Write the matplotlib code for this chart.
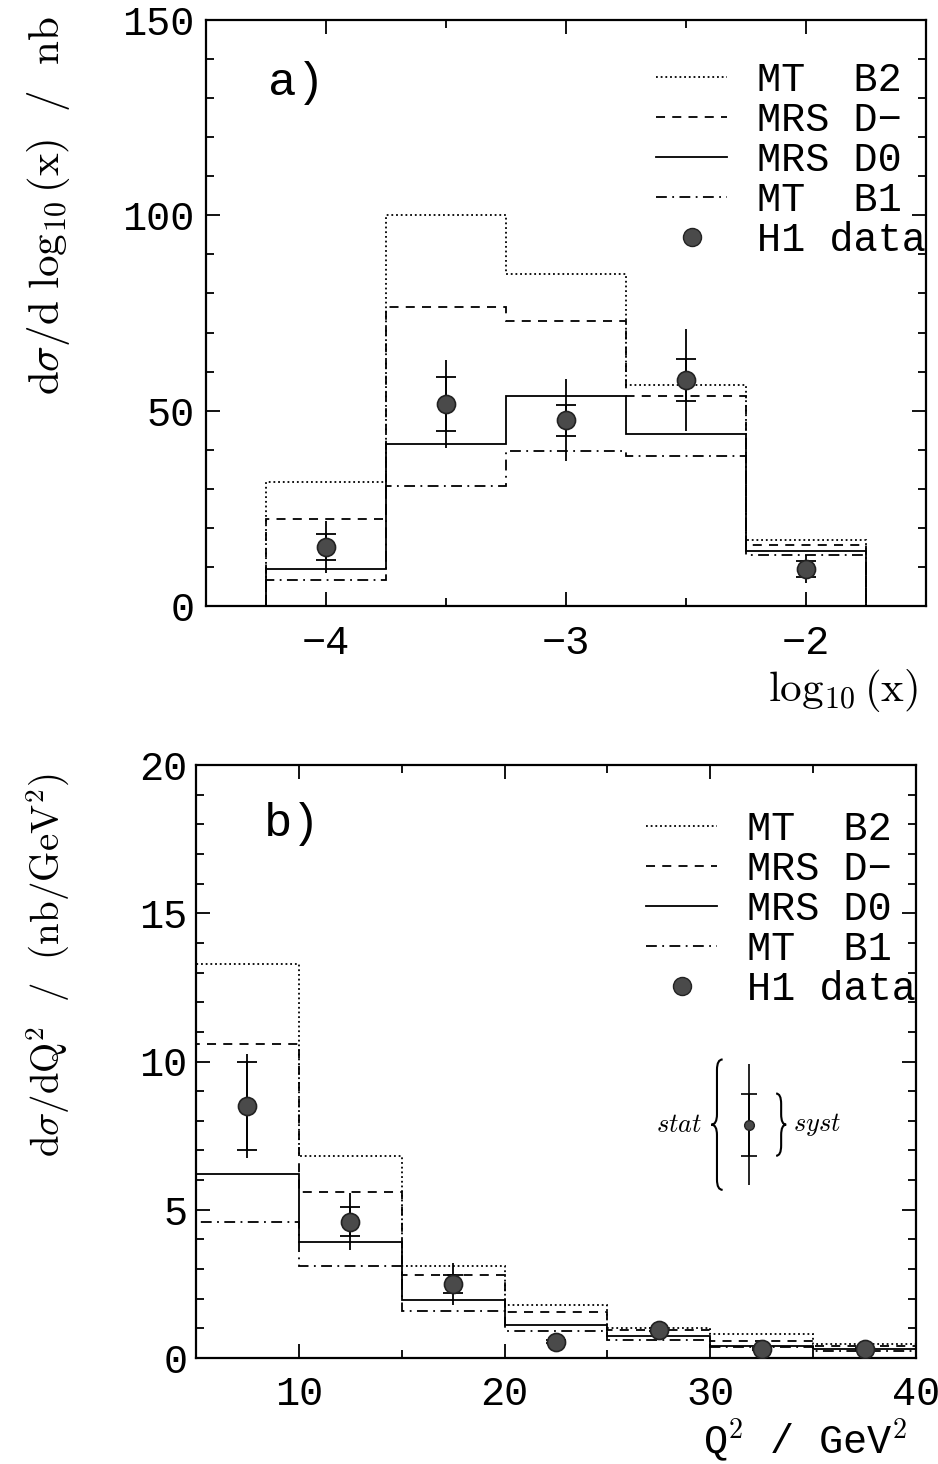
import numpy as np
import matplotlib
matplotlib.use("Agg")
import matplotlib.pyplot as plt
from matplotlib.path import Path
from matplotlib.patches import PathPatch
from matplotlib.ticker import MultipleLocator
from matplotlib.lines import Line2D

plt.rcParams['mathtext.fontset'] = 'cm'
plt.rcParams['font.family'] = ['Liberation Mono', 'DejaVu Sans']

# ---------------- data: panel a (log10 x) ----------------
x_edges_a = [-4.25, -3.75, -3.25, -2.75, -2.25, -1.75]
mt_b2_a = [31.7, 100.0, 85.0, 56.6, 17.0]
mrs_dm_a = [22.3, 76.5, 72.9, 53.7, 15.5]
mrs_d0_a = [9.5, 41.5, 53.7, 44.0, 14.0]
mt_b1_a = [6.7, 30.7, 39.7, 38.4, 13.0]
h1_x_a = [-4.0, -3.5, -3.0, -2.5, -2.0]
h1_y_a = [15.1, 51.7, 47.5, 57.8, 9.5]
h1_stat_a = [3.4, 6.8, 3.9, 5.3, 2.0]
h1_tot_a = [6.7, 11.2, 10.5, 13.0, 3.5]

# ---------------- data: panel b (Q^2) ----------------
q_edges_b = [5, 10, 15, 20, 25, 30, 35, 40]
mt_b2_b = [13.3, 6.8, 3.1, 1.8, 1.0, 0.8, 0.47]
mrs_dm_b = [10.6, 5.6, 2.8, 1.55, 0.95, 0.58, 0.42]
mrs_d0_b = [6.2, 3.9, 1.97, 1.1, 0.75, 0.42, 0.3]
mt_b1_b = [4.6, 3.1, 1.6, 0.9, 0.6, 0.38, 0.25]
h1_x_b = [7.5, 12.5, 17.5, 22.5, 27.5, 32.5, 37.5]
h1_y_b = [8.5, 4.6, 2.5, 0.55, 0.95, 0.3, 0.3]
h1_stat_b = [1.5, 0.5, 0.3, 0.05, 0.05, 0.03, 0.03]
h1_tot_b = [1.75, 0.95, 0.7, 0.08, 0.08, 0.05, 0.05]

# error-bar key in panel b
key_x = [31.9]
key_y = [7.87]
key_inner = [1.05]
key_outer = [2.05]

labels = ["MT  B2", "MRS D\u2212", "MRS D0", "MT  B1", "H1 data"]
styles = [(0, (1, 1.6)), (0, (5, 4)), '-', (0, (6, 3, 1, 3))]

TICKFS = 29
LEGFS = 29
MONO = ['Liberation Mono', 'DejaVu Sans']

fig = plt.figure(figsize=(9.38, 14.64), dpi=100)
axa = fig.add_axes([206/938, 1-606/1464, 720/938, 586/1464])
axb = fig.add_axes([196/938, 1-1358/1464, 720/938, 593/1464])


def style_axes(ax):
    ax.tick_params(which='both', direction='in', top=True, right=True,
                   width=1.3, colors='black')
    ax.tick_params(which='major', length=10)
    ax.tick_params(which='minor', length=6)
    for s in ax.spines.values():
        s.set_linewidth(1.6)
    for lab in ax.get_xticklabels() + ax.get_yticklabels():
        lab.set_fontfamily(MONO)
        lab.set_fontsize(TICKFS)


def draw_panel(ax, edges, series, hx, hy, hstat, htot):
    handles = []
    for vals, ls, lab in zip(series, styles, labels[:4]):
        ax.stairs(vals, edges, baseline=0, color='black', linewidth=1.3,
                  linestyle=ls)
        handles.append(Line2D([], [], color='black', linewidth=1.3,
                              linestyle=ls, label=lab))
    ax.errorbar(hx, hy, yerr=htot, fmt='none', ecolor='black',
                elinewidth=1.3, capsize=0, zorder=4)
    ax.errorbar(hx, hy, yerr=hstat, fmt='none', ecolor='black',
                elinewidth=1.3, capsize=7, capthick=1.3, zorder=4)
    ax.plot(hx, hy, 'o', markersize=13, markerfacecolor='#4a4a4a',
            markeredgecolor='#222222', markeredgewidth=1.2, zorder=5)
    handles.append(Line2D([], [], linestyle='none', marker='o',
                          markersize=13, markerfacecolor='#4a4a4a',
                          markeredgecolor='#222222', label=labels[4]))
    return handles


def add_legend(ax, handles, ytop):
    ax.legend(handles=handles, loc='upper right', bbox_to_anchor=(1.0, ytop),
              frameon=False, prop={'family': MONO, 'size': LEGFS},
              handlelength=1.75, handletextpad=0.75, labelspacing=0.05,
              borderpad=0, borderaxespad=0)


# ---------------- panel a ----------------
ha = draw_panel(axa, x_edges_a, [mt_b2_a, mrs_dm_a, mrs_d0_a, mt_b1_a],
                h1_x_a, h1_y_a, h1_stat_a, h1_tot_a)
axa.set_xlim(-4.5, -1.5)
axa.set_ylim(0, 150)
axa.xaxis.set_minor_locator(MultipleLocator(0.5))
axa.yaxis.set_major_locator(MultipleLocator(50))
axa.yaxis.set_minor_locator(MultipleLocator(10))
axa.set_xticks([-4, -3, -2])
axa.set_xticklabels(["\u22124", "\u22123", "\u22122"])
axa.tick_params(axis='x', pad=13)
axa.tick_params(axis='y', pad=8)
style_axes(axa)
axa.text(-4.125, 134, "a)", fontsize=34, family=MONO, ha='center', va='center')
add_legend(axa, ha, 0.93)

# ---------------- panel b ----------------
hb = draw_panel(axb, q_edges_b, [mt_b2_b, mrs_dm_b, mrs_d0_b, mt_b1_b],
                h1_x_b, h1_y_b, h1_stat_b, h1_tot_b)
axb.set_xlim(5, 40)
axb.set_ylim(0, 20)
axb.xaxis.set_major_locator(MultipleLocator(10))
axb.xaxis.set_minor_locator(MultipleLocator(5))
axb.yaxis.set_major_locator(MultipleLocator(5))
axb.yaxis.set_minor_locator(MultipleLocator(1))
axb.tick_params(axis='x', pad=12)
axb.tick_params(axis='y', pad=6)
style_axes(axb)
axb.text(9.66, 18.0, "b)", fontsize=34, family=MONO, ha='center', va='center')
add_legend(axb, hb, 0.924)

# error key
axb.errorbar(key_x, key_y, yerr=key_outer, fmt='none', ecolor='black',
             elinewidth=1.2, capsize=0)
axb.errorbar(key_x, key_y, yerr=key_inner, fmt='none', ecolor='black',
             elinewidth=1.2, capsize=6, capthick=1.2)
axb.plot(key_x, key_y, 'o', markersize=7, markerfacecolor='#4a4a4a',
         markeredgecolor='#222222')


def brace(ax, x_tip, x_end, y0, y1):
    ym = 0.5 * (y0 + y1)
    xm = 0.5 * (x_tip + x_end)
    c = 0.35
    verts = [(x_end, y1), (xm, y1), (xm, y1 - c), (xm, ym + c), (xm, ym),
             (x_tip, ym), (xm, ym), (xm, ym - c), (xm, y0 + c), (xm, y0),
             (x_end, y0)]
    codes = [Path.MOVETO, Path.CURVE3, Path.CURVE3, Path.LINETO, Path.CURVE3,
             Path.CURVE3, Path.CURVE3, Path.CURVE3, Path.LINETO, Path.CURVE3,
             Path.CURVE3]
    ax.add_patch(PathPatch(Path(verts, codes), fill=False, lw=1.5,
                           edgecolor='black'))


brace(axb, 30.05, 30.6, key_y[0] - key_outer[0] - 0.15, key_y[0] + key_outer[0] + 0.15)
brace(axb, 33.69, 33.2, key_y[0] - key_inner[0], key_y[0] + key_inner[0])
axb.text(29.6, key_y[0], r"$stat$", fontsize=19, ha='right', va='center')
axb.text(34.0, key_y[0], r"$syst$", fontsize=19, ha='left', va='center')

# ---------------- axis labels ----------------
fig.text(48/938, 1-205/1464,
         r"$\mathrm{d}\sigma/\mathrm{d}\ \log_{10}(\mathrm{x})\ \ /\ \ \mathrm{nb}$",
         rotation=90, fontsize=31, ha='center', va='center')
fig.text(48/938, 1-965/1464,
         r"$\mathrm{d}\sigma/\mathrm{dQ}^2\ \ /\ \ (\mathrm{nb}/\mathrm{GeV}^2)$",
         rotation=90, fontsize=28, ha='center', va='center')
fig.text(843/938, 1-690/1464, r"$\log_{10}(\mathrm{x})$", fontsize=31,
         ha='center', va='center')
fig.text(805/938, 1-1440/1464, r"Q$^2$ / GeV$^2$", fontsize=29,
         family=MONO, ha='center', va='center')

fig.savefig("out.png", dpi=100, facecolor='white')
